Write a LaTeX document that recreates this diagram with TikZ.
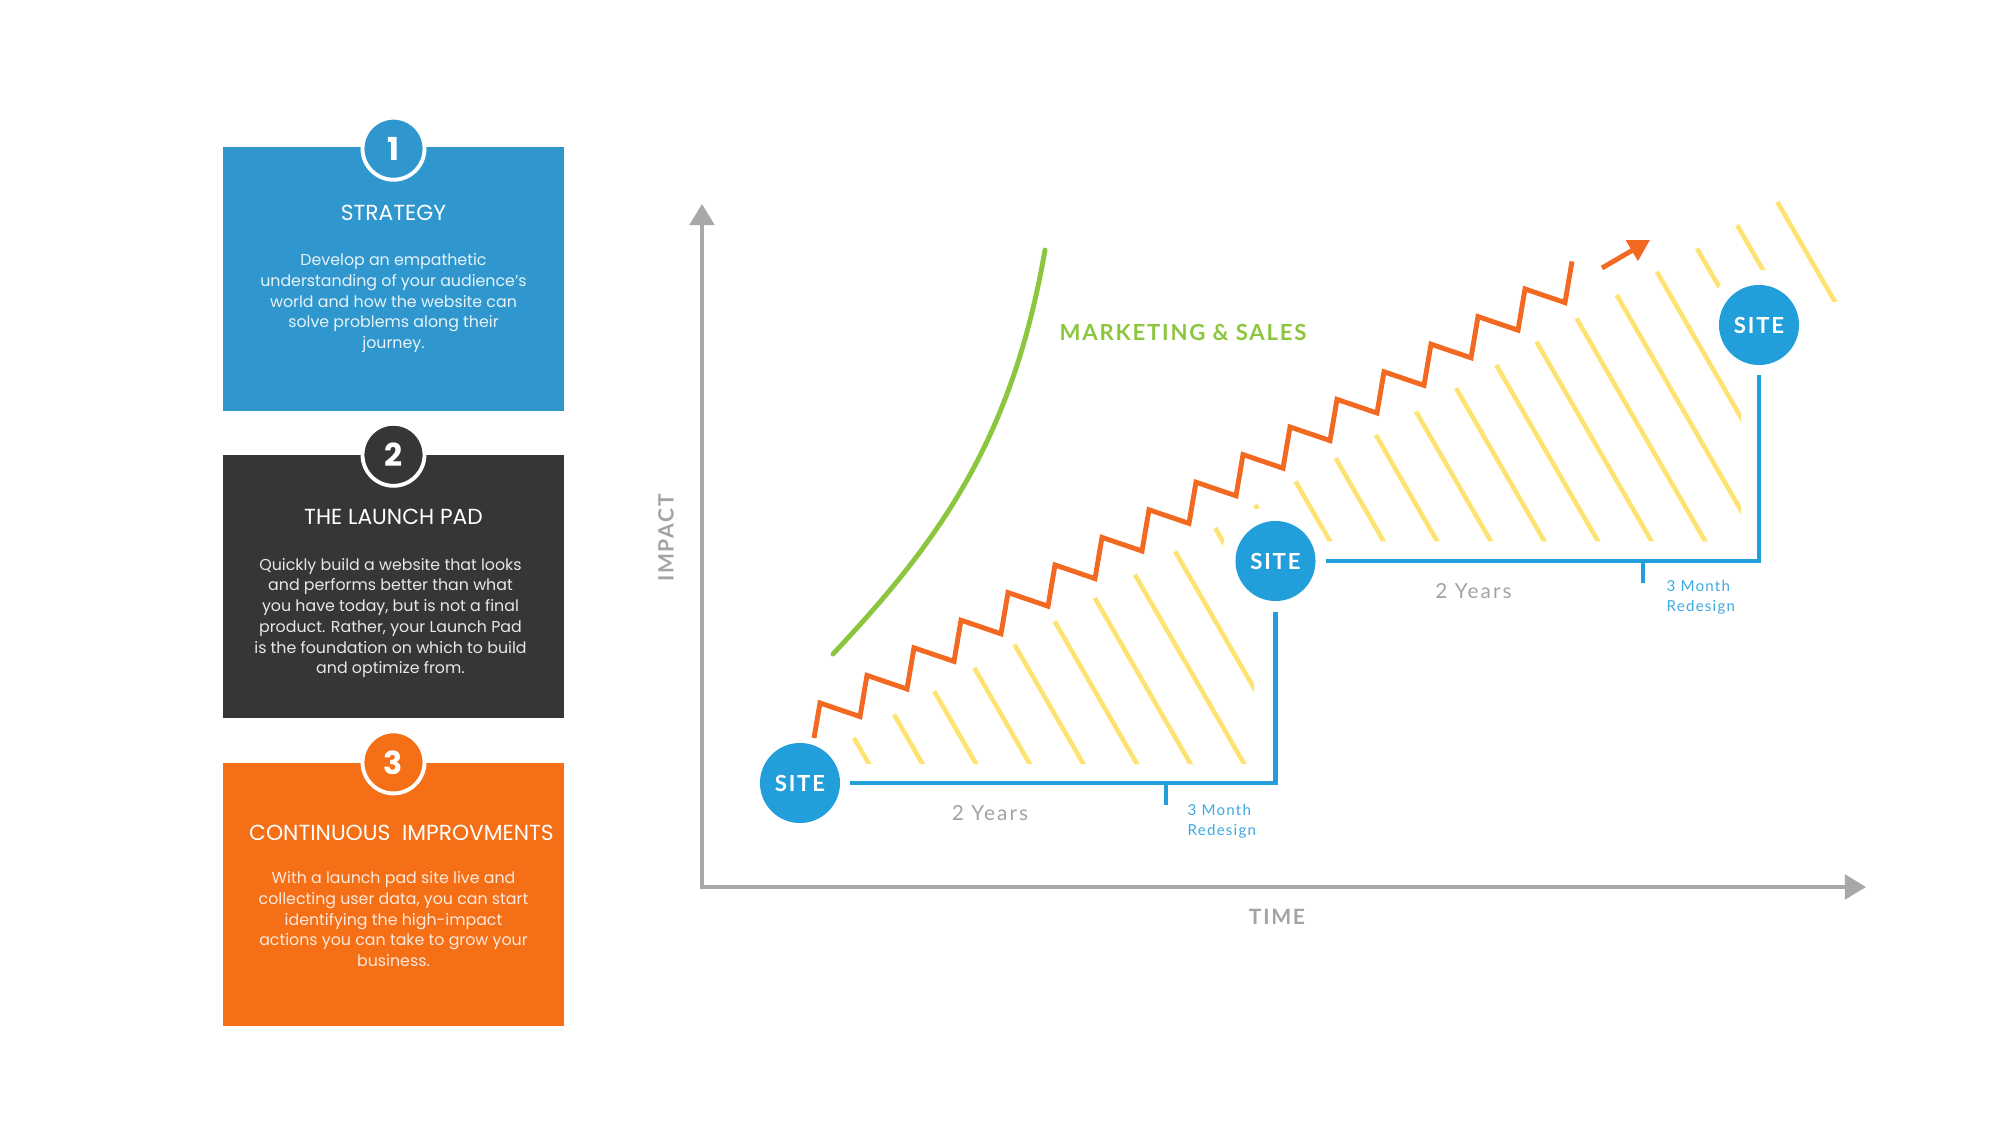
\documentclass[tikz,border=0pt]{standalone}
\usepackage{fontspec}
\setmainfont{Poppins}
\newfontfamily\chartfont{Lato}[LetterSpace=8]
\newfontfamily\yearsfont{Lato}[LetterSpace=10]
\usetikzlibrary{arrows.meta,positioning,calc}
\definecolor{stratblue}{HTML}{2F97CD}
\definecolor{launchgray}{HTML}{353636}
\definecolor{improvorange}{HTML}{F46F16}
\definecolor{siteblue}{HTML}{229FDA}
\definecolor{redesignblue}{HTML}{3DA9E0}
\definecolor{zigorange}{HTML}{F26A22}
\definecolor{mktgreen}{HTML}{8CC63F}
\definecolor{hatchyellow}{HTML}{FFE372}
\definecolor{axisgray}{HTML}{A8A8A8}
\definecolor{labelgray}{HTML}{A3A3A3}
\tikzset{
  panel/.style={rectangle, fill=#1, minimum width=3.41cm, minimum height=2.63cm, inner sep=0pt},
  numcirc/.style={circle, fill=#1, draw=white, line width=1.1pt, minimum size=0.62cm,
                  inner sep=0pt, text=white, font=\fontsize{9}{9}\selectfont\bfseries},
  paneltitle/.style={text=white, inner sep=0pt, font=\fontsize{6.2}{7}\selectfont},
  panelbody/.style={text=#1, align=center, anchor=north, inner sep=0pt,
                    font=\fontsize{4.5}{5.9}\selectfont},
  sitenode/.style={circle, fill=siteblue, minimum size=0.8cm, inner sep=0pt, text=white,
                   font=\chartfont\bfseries\fontsize{6.3}{6.3}\selectfont},
  halo/.style={circle, fill=white, minimum size=1.1cm, inner sep=0pt},
  siteline/.style={draw=siteblue, line width=1.25pt, line join=miter},
  hatch/.style={draw=hatchyellow, line width=1.3pt},
  zig/.style={draw=zigorange, line width=1.4pt, line join=miter},
  mkt/.style={draw=mktgreen, line width=1.4pt, line cap=round},
  axis/.style={draw=axisgray, line width=1pt, line join=miter,
               {Triangle[length=6pt, width=7pt]}-{Triangle[length=6pt, width=7pt]}},
  axislabel/.style={text=labelgray, inner sep=0pt, font=\chartfont\bfseries\fontsize{6}{6}\selectfont},
  years/.style={text=labelgray, inner sep=0pt, font=\yearsfont\fontsize{5.9}{5.9}\selectfont},
  redesign/.style={text=redesignblue, align=left, anchor=north west, inner sep=0pt,
                   font=\chartfont\fontsize{4.3}{5.7}\selectfont},
}
\begin{document}
\begin{tikzpicture}[x=0.01cm, y=-0.01cm]
  \useasboundingbox (0,0) rectangle (2000,1125);

  % step panels
  \node[panel=stratblue] (strategy) at (393.5,279) {};
  \node[panel=launchgray, below=0.43cm of strategy] (launch) {};
  \node[panel=improvorange, below=0.43cm of launch] (improve) {};
  \node[numcirc=stratblue] (num1) at ([yshift=-0.02cm]strategy.north) {1};
  \node[numcirc=launchgray] (num2) at ([yshift=-0.005cm]launch.north) {2};
  \node[numcirc=improvorange] (num3) at ([yshift=-0.005cm]improve.north) {3};
  \node[paneltitle] (title1) at ([yshift=-0.66cm]strategy.north) {STRATEGY};
  \node[paneltitle] (title2) at ([yshift=-0.63cm]launch.north) {THE LAUNCH PAD};
  \node[paneltitle] (title3) at ([xshift=0.08cm,yshift=-0.71cm]improve.north) {CONTINUOUS\ \ IMPROVMENTS};
  \node[panelbody=white!88!stratblue] (body1) at ([yshift=-1.06cm]strategy.north)
    {Develop an empathetic\\understanding of your audience’s\\world and how the website can\\solve problems along their\\journey.};
  \node[panelbody=white!88!launchgray] (body2) at ([xshift=-0.03cm,yshift=-1.03cm]launch.north)
    {Quickly build a website that looks\\and performs better than what\\you have today, but is not a final\\product. Rather, your Launch Pad\\is the foundation on which to build\\and optimize from.};
  \node[panelbody=white!85!improvorange] (body3) at ([yshift=-1.09cm]improve.north)
    {With a launch pad site live and\\collecting user data, you can start\\identifying the high-impact\\actions you can take to grow your\\business.};

  % axes
  \coordinate (ytop) at (702,204);
  \coordinate (origin) at (702,887);
  \coordinate (xend) at (1866,887);
  \draw[axis] (ytop) -- (origin) -- (xend);
  \node[axislabel, rotate=90] (impact) at (666,538) {IMPACT};
  \node[axislabel] (time) at (1277,917) {TIME};

  % hatched growth area
  \begin{scope}
    \clip (808.8,764) -- (1900,130.6) -- (1900,302) -- (1741,302) -- (1741,541.5)
          -- (1254,541.5) -- (1254,764) -- cycle;
    \foreach \k in {0,...,23}
      \draw[hatch] ({514.5+53.6*\k},150) -- ({884+53.6*\k},790);
  \end{scope}
  \coordinate (c1) at (800,783);
  \coordinate (c2) at (1275.5,561);
  \coordinate (c3) at (1759,325);
  \foreach \c in {c1,c2,c3}
    \node[halo] at (\c) {};

  % marketing curve and growth zigzag
  \draw[mkt] (833,654) .. controls (940,540) and (1012,440) .. (1045,250);
  \node[anchor=west, inner sep=0pt, text=mktgreen, font=\chartfont\bfseries\fontsize{6.3}{6.3}\selectfont]
    (mktlabel) at (1059,332) {MARKETING \& SALES};
  \draw[zig] (814,738) \foreach \i in {0,...,15}{
      -- ({820+47*\i},{703-27.6*\i}) -- ({860+47*\i},{716.6-27.6*\i}) } -- (1572,261.4);
  \coordinate (gtail) at (1602,268);
  \coordinate (ghead) at (1650,240);
  \draw[zig, -{Triangle[length=6pt, width=6.5pt]}] (gtail) -- (ghead);

  % site launches
  \node[sitenode] (site1) at (c1) {SITE};
  \node[sitenode] (site2) at (c2) {SITE};
  \node[sitenode] (site3) at (c3) {SITE};
  \draw[siteline] ([xshift=0.09cm]site1.east) -| ([yshift=-0.1cm]site2.south);
  \draw[siteline] ([xshift=0.095cm]site2.east) -| ([yshift=-0.09cm]site3.south);
  \coordinate (tick1) at (1166,783);
  \coordinate (tick2) at (1643,561);
  \draw[siteline] (tick1) -- ++(0,22);
  \draw[siteline] (tick2) -- ++(0,22);
  \node[years] (years1) at (990,813) {2 Years};
  \node[years] (years2) at (1473.5,591) {2 Years};
  \node[redesign] (redesign1) at (1187,804) {3 Month\\Redesign};
  \node[redesign] (redesign2) at (1666,580) {3 Month\\Redesign};
\end{tikzpicture}
\end{document}
